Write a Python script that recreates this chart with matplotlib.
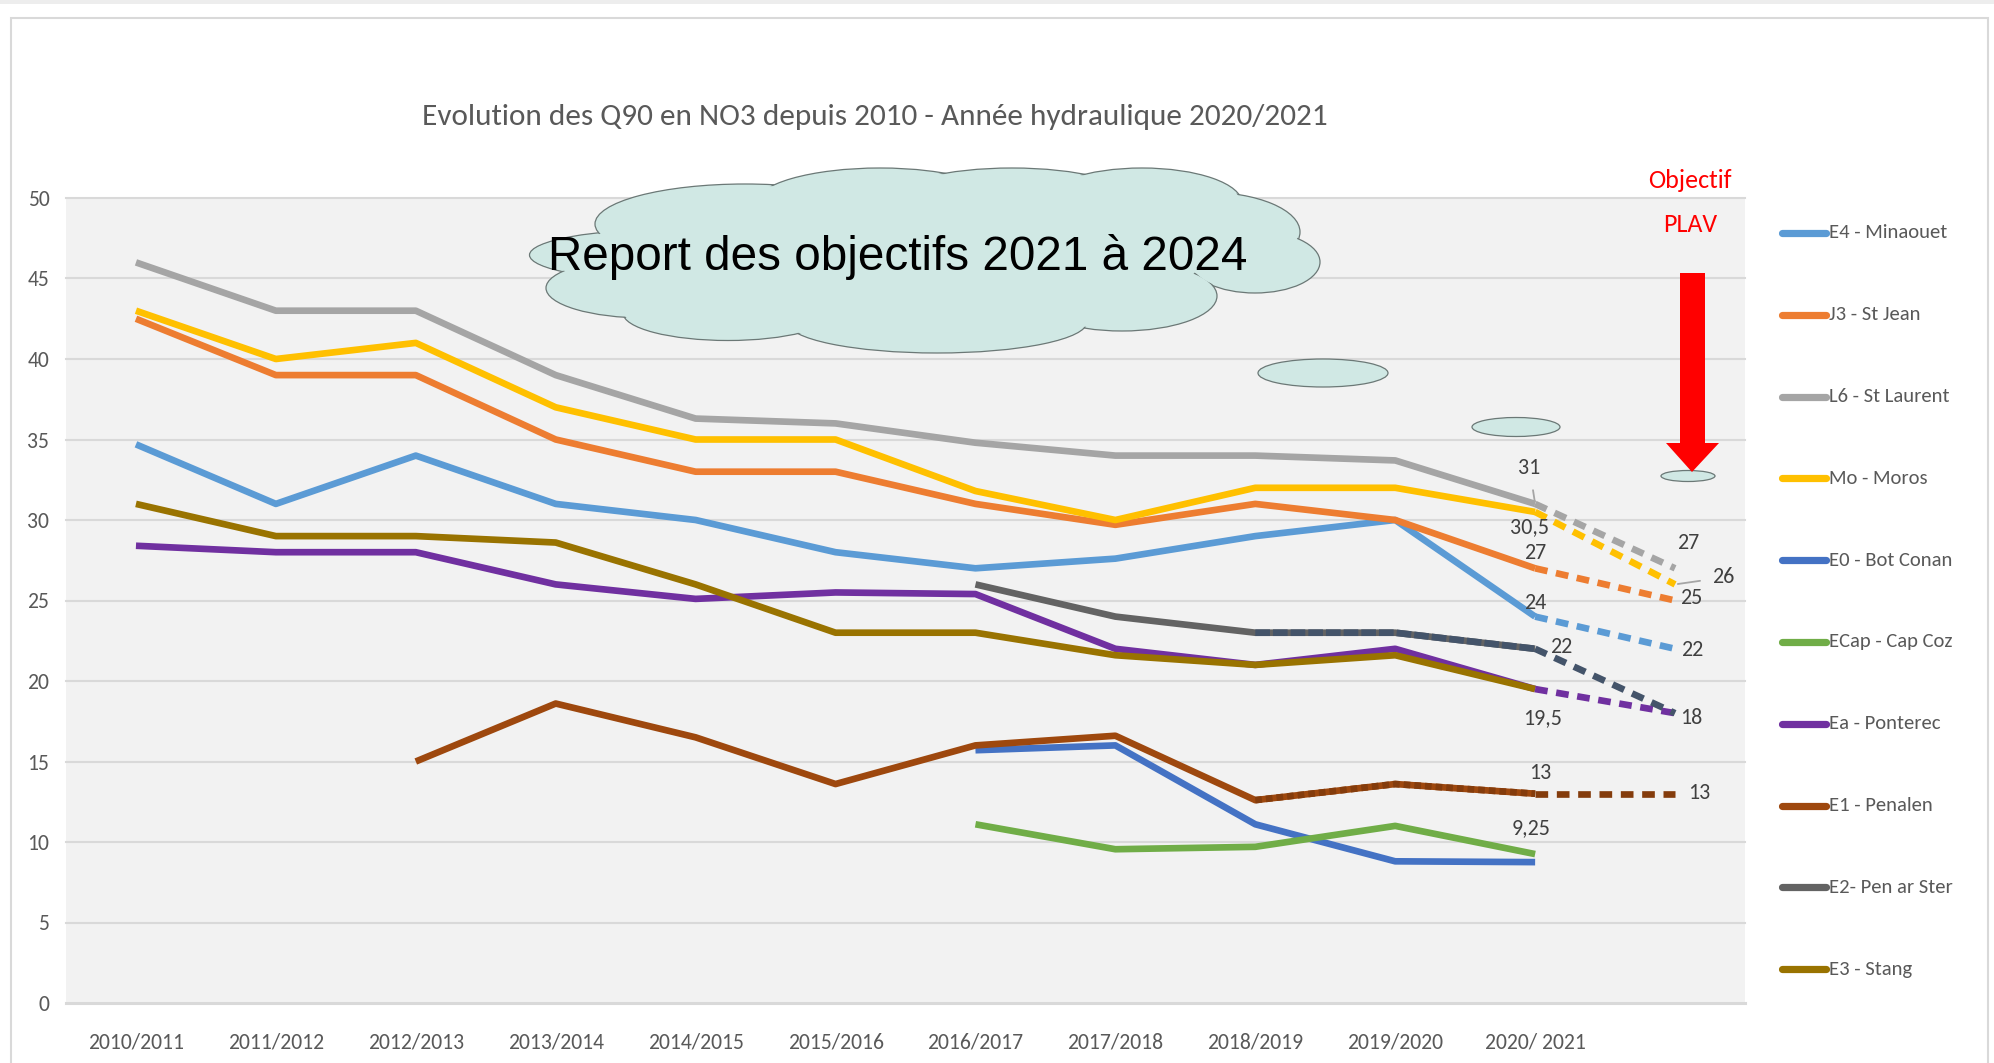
import numpy as np
import matplotlib
matplotlib.use('Agg')
import matplotlib.pyplot as plt
from matplotlib import font_manager as fm
from matplotlib.patches import Ellipse, Rectangle, Polygon
from matplotlib.lines import Line2D

# ---------------- data ----------------
categories = ['2010/2011', '2011/2012', '2012/2013', '2013/2014', '2014/2015',
              '2015/2016', '2016/2017', '2017/2018', '2018/2019', '2019/2020',
              '2020/ 2021', '']
nan = np.nan
e4_minaouet = [34.7, 31, 34, 31, 30, 28, 27, 27.6, 29, 30, 24]
j3_stjean = [42.5, 39, 39, 35, 33, 33, 31, 29.7, 31, 30, 27]
l6_stlaurent = [46, 43, 43, 39, 36.3, 36, 34.8, 34, 34, 33.7, 31]
mo_moros = [43, 40, 41, 37, 35, 35, 31.8, 30, 32, 32, 30.5]
e0_botconan = [nan, nan, nan, nan, nan, nan, 15.7, 16, 11.1, 8.8, 8.75]
ecap_capcoz = [nan, nan, nan, nan, nan, nan, 11.1, 9.55, 9.7, 11, 9.25]
ea_ponterec = [28.4, 28, 28, 26, 25.1, 25.5, 25.4, 22, 21, 22, 19.5]
e1_penalen = [nan, nan, 15, 18.6, 16.5, 13.6, 16, 16.6, 12.6, 13.6, 13]
e2_penarster = [nan, nan, nan, nan, nan, nan, 26, 24, 23, 23, 22]
e3_stang = [31, 29, 29, 28.6, 26, 23, 23, 21.6, 21, 21.6, 19.5]

# objectives (PLAV) at the last slot
obj_e4 = 22
obj_j3 = 25
obj_l6 = 27
obj_mo = 26
obj_ea = 18
obj_e2 = 18
obj_e1 = 13

legend_labels = ['E4 - Minaouet', 'J3 - St Jean', 'L6 - St Laurent', 'Mo - Moros',
                 'E0 - Bot Conan', 'ECap - Cap Coz', 'Ea - Ponterec', 'E1 - Penalen',
                 'E2- Pen ar Ster', 'E3 - Stang']
colors = ['#5b9bd5', '#ed7d31', '#a5a5a5', '#ffc000', '#4472c4', '#70ad47',
          '#7030a0', '#9e480e', '#636363', '#997300']
series = [e4_minaouet, j3_stjean, l6_stlaurent, mo_moros, e0_botconan, ecap_capcoz,
          ea_ponterec, e1_penalen, e2_penarster, e3_stang]

title = 'Evolution des Q90 en NO3 depuis 2010 - Année hydraulique 2020/2021'
cloud_text = 'Report des objectifs 2021 à 2024'

# ---------------- fonts ----------------
available = {f.name for f in fm.fontManager.ttflist}
narrow_name = 'DejaVu Sans'
for cand in ['Liberation Sans Narrow', 'Carlito', 'Roboto Condensed', 'Lato', 'Roboto']:
    if cand in available:
        narrow_name = cand
        break
NARROW = dict(family=[narrow_name, 'DejaVu Sans'])
ARIAL = dict(family=['Liberation Sans', 'DejaVu Sans'])

W, H = 1994, 1063
fig = plt.figure(figsize=(W / 100, H / 100), dpi=100)
fig.patch.set_facecolor('white')
renderer = fig.canvas.get_renderer()


def fit_size(text, target_px, kw, boost=1.0):
    t = fig.text(0, 0, text, fontsize=20, **kw)
    w = t.get_window_extent(renderer).width
    t.remove()
    return 20 * target_px / w * boost


FS_TICK = fit_size('2010/2011', 89, NARROW, 1.08)
FS_LEG = fit_size('E4 - Minaouet', 116, NARROW, 1.02)
FS_LAB = fit_size('30,5', 36, NARROW, 1.08)
FS_TITLE = fit_size(title, 899, NARROW, 1.01)
FS_OBJ = fit_size('Objectif', 79, NARROW, 1.06)
FS_CLOUD = fit_size(cloud_text, 698, ARIAL)


def fx(px):
    return px / W


def fy(py):
    return 1 - py / H


# outer frame + top strip
fig.add_artist(Rectangle((0, fy(4)), 1, fy(0) - fy(4), transform=fig.transFigure,
                         facecolor='#ededed', edgecolor='none', zorder=-5))
fig.add_artist(Rectangle((fx(11), fy(1070)), fx(1988) - fx(11), fy(18) - fy(1070),
                         transform=fig.transFigure, fill=False,
                         edgecolor='#d9d9d9', lw=1.5, zorder=-4))

# ---------------- axes ----------------
ax = fig.add_axes([fx(66), fy(1003), fx(1745) - fx(66), fy(198) - fy(1003)])
ax.set_facecolor('#f2f2f2')
ax.set_xlim(-0.5, 11.5)
ax.set_ylim(0, 50)
for s in ax.spines.values():
    s.set_visible(False)
yt = list(range(0, 51, 5))
for v in yt:
    ax.axhline(v, color='#d9d9d9', lw=2.2 if v == 0 else 1.5, zorder=1, clip_on=False)
ax.set_yticks(yt)
ax.set_yticklabels([str(v) for v in yt], color='#595959', fontsize=FS_TICK, **NARROW)
ax.set_xticks(range(len(categories)))
ax.set_xticklabels(categories, color='#595959', fontsize=FS_TICK, **NARROW)
ax.tick_params(axis='y', length=0, pad=12)
ax.tick_params(axis='x', length=0, pad=21)

LW = 4.8
x = np.arange(11)
for i, (vals, c) in enumerate(zip(series, colors)):
    ax.plot(x, vals, color=c, lw=LW, solid_capstyle='butt', solid_joinstyle='round',
            zorder=3 + i * 0.1)

DASH = (0, (1.9, 1.3))
# texture overlays
ax.plot(x[8:], e2_penarster[8:], color='#44546a', lw=LW, linestyle=(0, (2.2, 0.45)), zorder=4.5)
ax.plot(x[8:], e1_penalen[8:], color='#843c0c', lw=LW, linestyle=(0, (1.0, 0.6)), zorder=4.4)

# dashed towards objectives
ax.plot([10, 11], [l6_stlaurent[10], obj_l6], color='#a5a5a5', lw=LW, linestyle=DASH, zorder=4)
ax.plot([10, 11], [mo_moros[10], obj_mo], color='#ffc000', lw=LW, linestyle=DASH, zorder=4.1)
ax.plot([10, 11], [j3_stjean[10], obj_j3], color='#ed7d31', lw=LW, linestyle=DASH, zorder=4)
ax.plot([10, 11], [e4_minaouet[10], obj_e4], color='#5b9bd5', lw=LW, linestyle=DASH, zorder=4)
ax.plot([10, 11], [ea_ponterec[10], obj_ea], color='#7030a0', lw=LW, linestyle=DASH, zorder=4)
ax.plot([10, 11], [e2_penarster[10], obj_e2], color='#44546a', lw=LW, linestyle=DASH, zorder=4.2)
ax.plot([10, 11], [e1_penalen[10], obj_e1], color='#843c0c', lw=LW, linestyle=DASH, zorder=4)


def fmt(v):
    return ('%g' % v).replace('.', ',')


LAB = dict(textcoords='offset points', ha='center', va='center', fontsize=FS_LAB,
           color='#404040', zorder=8, **NARROW)
ax.annotate(fmt(l6_stlaurent[10]), xy=(10, l6_stlaurent[10]), xytext=(-4, 26),
            arrowprops=dict(arrowstyle='-', color='#a5a5a5', lw=1.3, shrinkA=7, shrinkB=2), **LAB)
ax.annotate(fmt(mo_moros[10]), xy=(10, mo_moros[10]), xytext=(-4, -11), **LAB)
ax.annotate(fmt(j3_stjean[10]), xy=(10, j3_stjean[10]), xytext=(0, 11), **LAB)
ax.annotate(fmt(e4_minaouet[10]), xy=(10, e4_minaouet[10]), xytext=(0, 10), **LAB)
ax.annotate(fmt(e2_penarster[10]), xy=(10, e2_penarster[10]), xytext=(18.5, 1.5), **LAB)
ax.annotate(fmt(ea_ponterec[10]), xy=(10, ea_ponterec[10]), xytext=(5, -21), **LAB)
ax.annotate(fmt(e1_penalen[10]), xy=(10, e1_penalen[10]), xytext=(4, 15), **LAB)
ax.annotate(fmt(ecap_capcoz[10]), xy=(10, ecap_capcoz[10]), xytext=(-3, 18.5), **LAB)
ax.annotate(fmt(obj_l6), xy=(11, obj_l6), xytext=(9.5, 18), **LAB)
ax.annotate(fmt(obj_mo), xy=(11, obj_mo), xytext=(35, 5),
            arrowprops=dict(arrowstyle='-', color='#a5a5a5', lw=1.3, shrinkA=7, shrinkB=2), **LAB)
ax.annotate(fmt(obj_j3), xy=(11, obj_j3), xytext=(11.5, 2), **LAB)
ax.annotate(fmt(obj_e4), xy=(11, obj_e4), xytext=(12, -0.7), **LAB)
ax.annotate(fmt(obj_ea), xy=(11, obj_ea), xytext=(11.5, -3.6), **LAB)
ax.annotate(fmt(obj_e1), xy=(11, obj_e1), xytext=(17.3, 0.7), **LAB)

# ---------------- title ----------------
fig.text(fx(875), fy(117), title, ha='center', va='center', fontsize=FS_TITLE,
         color='#595959', **NARROW)

# ---------------- legend (handles + labels) ----------------
for i, (lab, c) in enumerate(zip(legend_labels, colors)):
    yy = 233 + 81.8 * i
    fig.add_artist(Line2D([fx(1782), fx(1826)], [fy(yy), fy(yy)], transform=fig.transFigure,
                          color=c, lw=5.2, solid_capstyle='round'))
    fig.text(fx(1829), fy(yy), lab, ha='left', va='center', fontsize=FS_LEG,
             color='#595959', **NARROW)

# ---------------- cloud ----------------
CLOUD_FILL = '#d0e8e4'
CLOUD_EDGE = '#6b7876'
lobes = [
    (672, 255, 285, 52),
    (745, 224, 300, 80),
    (880, 204, 250, 72),
    (1012, 199, 240, 62),
    (1142, 203, 200, 70),
    (1205, 232, 190, 80),
    (1255, 262, 130, 62),
    (1122, 296, 190, 70),
    (937, 322, 300, 62),
    (728, 313, 210, 55),
    (646, 288, 200, 60),
]
for (cx, cy, w, h) in lobes:
    fig.add_artist(Ellipse((fx(cx), fy(cy)), w / W, h / H, transform=fig.transFigure,
                           facecolor=CLOUD_FILL, edgecolor=CLOUD_EDGE, lw=0.9, zorder=5))
for (cx, cy, w, h) in lobes:
    fig.add_artist(Ellipse((fx(cx), fy(cy)), (w - 3) / W, (h - 3) / H, transform=fig.transFigure,
                           facecolor=CLOUD_FILL, edgecolor='none', zorder=6))
fig.add_artist(Ellipse((fx(920), fy(262)), 560 / W, 110 / H, transform=fig.transFigure,
                       facecolor=CLOUD_FILL, edgecolor='none', zorder=6))
fig.text(fx(898), fy(257), cloud_text, ha='center', va='center', fontsize=FS_CLOUD,
         color='black', zorder=7, **ARIAL)

for (cx, cy, w, h) in [(1323, 373, 130, 28), (1516, 427, 88, 19), (1688, 476, 54, 11)]:
    fig.add_artist(Ellipse((fx(cx), fy(cy)), w / W, h / H, transform=fig.transFigure,
                           facecolor=CLOUD_FILL, edgecolor=CLOUD_EDGE, lw=0.9, zorder=5))

# ---------------- red arrow + objective text ----------------
arrow_px = [(1680, 273), (1705, 273), (1705, 443), (1719, 443), (1692, 472),
            (1666, 443), (1680, 443)]
fig.add_artist(Polygon([(fx(a), fy(b)) for a, b in arrow_px], closed=True,
                       transform=fig.transFigure, facecolor='#ff0000',
                       edgecolor='none', zorder=6))
fig.text(fx(1690), fy(181), 'Objectif', ha='center', va='center', fontsize=FS_OBJ,
         color='#ff0000', **NARROW)
fig.text(fx(1690), fy(224), 'PLAV', ha='center', va='center', fontsize=FS_OBJ,
         color='#ff0000', **NARROW)

fig.savefig('out.png', dpi=100)
